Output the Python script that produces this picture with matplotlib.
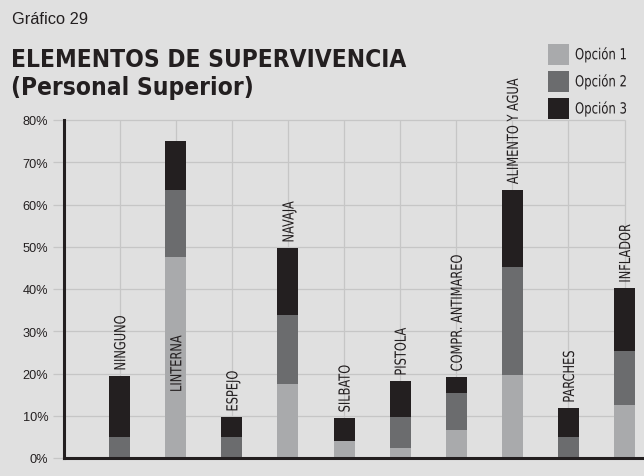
import matplotlib
matplotlib.use("Agg")
import matplotlib.pyplot as plt
from matplotlib import font_manager as fm
from matplotlib.patches import Rectangle
import matplotlib.patheffects as pe
from matplotlib.transforms import Affine2D

# ---------------- data ----------------
categories = ["NINGUNO", "LINTERNA", "ESPEJO", "NAVAJA", "SILBATO",
              "PISTOLA", "COMPR. ANTIMAREO", "ALIMENTO Y AGUA", "PARCHES", "INFLADOR"]
series_names = ["Opción 1", "Opción 2", "Opción 3"]
opcion1 = [0.0, 47.6, 0.0, 17.4, 4.1, 2.4, 6.6, 19.6, 0.0, 12.6]
opcion2 = [5.0, 15.9, 5.0, 16.5, 0.0, 7.4, 8.9, 25.7, 5.0, 12.8]
opcion3 = [14.4, 11.5, 4.7, 15.8, 5.4, 8.4, 3.7, 18.2, 6.8, 14.8]
y_ticks = [0, 10, 20, 30, 40, 50, 60, 70, 80]
y_tick_labels = ["0%", "10%", "20%", "30%", "40%", "50%", "60%", "70%", "80%"]

# ---------------- style ----------------
BG = "#e0e0e0"
GRID = "#c6c6c6"
DARK = "#231f20"
colors = ["#a9aaac", "#6b6c6e", "#231f20"]


def has_font(fam):
    try:
        fm.findfont(fm.FontProperties(family=fam), fallback_to_default=False)
        return True
    except Exception:
        return False


NARROW = "DejaVu Sans"
REG = "Liberation Sans" if has_font("Liberation Sans") else "DejaVu Sans"
STRETCH = "condensed"


class Condense(pe.AbstractPathEffect):
    """Draw text glyphs narrower along the baseline (like a condensed face)."""

    def __init__(self, sx):
        super().__init__()
        self.sx = sx

    def draw_path(self, renderer, gc, tpath, affine, rgbFace=None):
        renderer.draw_path(gc, tpath, Affine2D().scale(self.sx, 1.0) + affine, rgbFace)


W, H, DPI = 644, 477, 100
fig = plt.figure(figsize=(W / DPI, H / DPI), dpi=DPI, facecolor=BG)

x0_px, y0_px, ytop_px = 63.5, 459.0, 121.0
step_px = 56.1
xmax = (W - x0_px) / step_px
ax = fig.add_axes([x0_px / W, 1 - y0_px / H, 1 - x0_px / W, (y0_px - ytop_px) / H])
ax.set_facecolor(BG)
ax.set_xlim(0, xmax)
ax.set_ylim(0, 80)

n = len(categories)
xs = list(range(1, n + 1))

# grid lines
ax.hlines(y_ticks, -10.5 / step_px, n, colors=GRID, linewidth=0.9, zorder=1, clip_on=False)
ax.vlines(xs, 0, 80, colors=GRID, linewidth=0.9, zorder=1)

# stacked bars
bw = 21 / step_px
bottom = [0.0] * n
for vals, col in zip([opcion1, opcion2, opcion3], colors):
    ax.bar(xs, vals, width=bw, bottom=bottom, color=col, zorder=3, linewidth=0)
    bottom = [b + v for b, v in zip(bottom, vals)]

# bar labels
label_fx = [Condense(0.83)]
for i, (x, cat, tot) in enumerate(zip(xs, categories, bottom)):
    if cat == "LINTERNA":
        xy, off = (x, 0), (0.8, 66 * 0.72)
    else:
        xy, off = (x, tot), (0.8, 5.5 * 0.72)
    ax.annotate(cat, xy, xytext=off, textcoords="offset points",
                rotation=90, ha="center", va="bottom", fontsize=11,
                family=NARROW, stretch=STRETCH, color=DARK, zorder=5,
                annotation_clip=False, path_effects=label_fx)

# axes styling
for s in ["top", "right"]:
    ax.spines[s].set_visible(False)
for s in ["left", "bottom"]:
    ax.spines[s].set_color(DARK)
    ax.spines[s].set_linewidth(2.2)
    ax.spines[s].set_zorder(6)
ax.set_xticks([])
ax.set_yticks(y_ticks)
ax.set_yticklabels(y_tick_labels, family=REG, fontsize=9.2, color=DARK)
ax.tick_params(axis="y", length=0, pad=11)

# titles
fig.text(12 / W, 1 - 24.5 / H, "Gráfico 29", family=REG, fontsize=11.8,
         color=DARK, ha="left", va="baseline")
fig.text(11 / W, 1 - 67 / H, "ELEMENTOS DE SUPERVIVENCIA", family=NARROW,
         stretch=STRETCH, fontweight="bold", fontsize=17.6, color=DARK,
         ha="left", va="baseline")
fig.text(11 / W, 1 - 95 / H, "(Personal Superior)", family=NARROW,
         stretch=STRETCH, fontweight="bold", fontsize=17.6, color=DARK,
         ha="left", va="baseline")

# legend (manual)
leg_fx = [Condense(0.85)]
for k, (name, col) in enumerate(zip(series_names, colors)):
    cy = 55.3 + 27.1 * k
    fig.patches.append(Rectangle((548 / W, 1 - (cy + 10.3) / H), 21 / W, 20.6 / H,
                                 transform=fig.transFigure, facecolor=col,
                                 edgecolor="none"))
    fig.text(575 / W, 1 - cy / H, name, family=NARROW, stretch=STRETCH,
             fontsize=11, color=DARK, ha="left", va="center", path_effects=leg_fx)

fig.savefig("out.png", dpi=DPI, facecolor=BG)
